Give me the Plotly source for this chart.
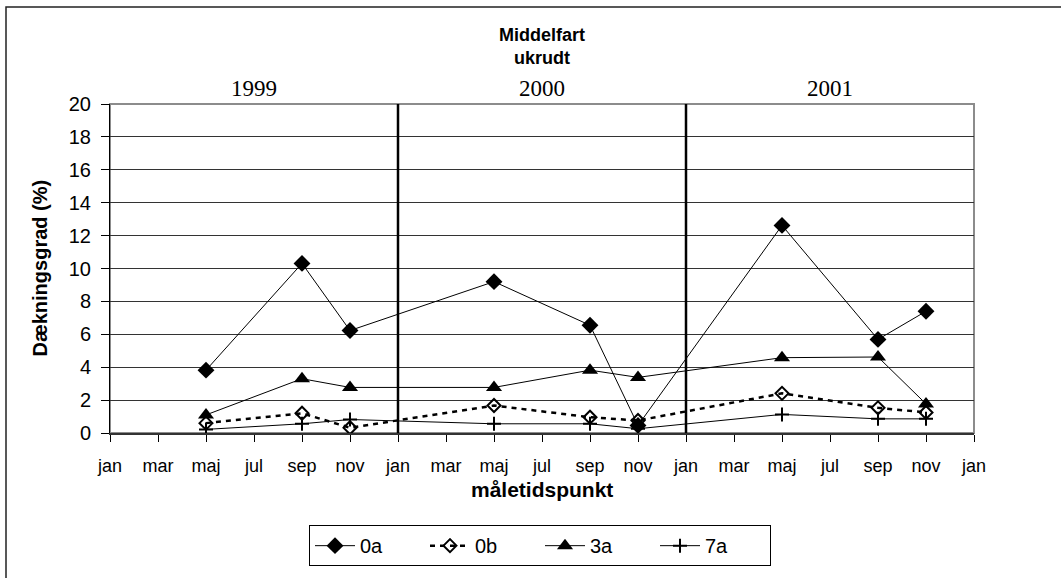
import plotly.graph_objects as go

# Month index: jan 1999 = 0, measurements in maj / sep / nov each year
months = [4, 8, 10, 16, 20, 22, 28, 32, 34]

cover_0a = [3.82, 10.31, 6.23, 9.2, 6.55, 0.46, 12.62, 5.69, 7.4]
cover_0b = [0.6, 1.2, 0.32, 1.67, 0.96, 0.76, 2.41, 1.53, 1.25]
cover_3a = [1.1, 3.3, 2.77, 2.77, 3.82, 3.38, 4.58, 4.62, 1.77]
cover_7a = [0.22, 0.56, 0.82, 0.56, 0.56, 0.26, 1.13, 0.86, 0.86]

tick_months = list(range(0, 37, 2))
tick_labels = ["jan", "mar", "maj", "jul", "sep", "nov"] * 3 + ["jan"]

year_labels = ["1999", "2000", "2001"]
year_centres = [6, 18, 30]
year_breaks = [12, 24]

fig = go.Figure()

series = [
    ("0a", cover_0a, dict(symbol="diamond", size=13, color="black"), "solid", 1),
    ("0b", cover_0b, dict(symbol="diamond-open", size=10, color="black",
                          line=dict(width=2, color="black")), "5px,5px", 2.5),
    ("3a", cover_3a, dict(symbol="triangle-up", size=14, color="black"), "solid", 1),
    ("7a", cover_7a, dict(symbol="cross-thin-open", size=10, color="black",
                          line=dict(width=2, color="black")), "solid", 1),
]
for name, vals, marker, dash, lw in series:
    fig.add_trace(go.Scatter(
        x=months, y=vals, name=name, mode="lines+markers",
        line=dict(color="black", width=lw, dash=dash),
        marker=marker,
    ))

shapes = []
# plot frame (grey top / right edges)
shapes.append(dict(type="rect", xref="paper", yref="paper", x0=0, x1=1, y0=0, y1=1,
                   line=dict(color="#8c8c8c", width=2), layer="below"))
# outer chart border
shapes.append(dict(type="rect", xref="paper", yref="paper",
                   x0=(6 - 110) / 864, x1=1.3, y0=-0.6, y1=(436 - 6) / 332,
                   line=dict(color="#222", width=1.5), layer="below"))
# year separators
for xb in year_breaks:
    shapes.append(dict(type="line", xref="x", yref="y", x0=xb, x1=xb, y0=-0.3, y1=20.36,
                       line=dict(color="black", width=2.5)))

annotations = []
for txt, xc in zip(year_labels, year_centres):
    annotations.append(dict(text=txt, x=xc, xref="x", y=1.004, yref="paper",
                            yanchor="bottom", showarrow=False,
                            font=dict(family="Liberation Serif", size=23, color="black")))
annotations.append(dict(text="<b>måletidspunkt</b>", x=0.5, xref="paper", xanchor="center",
                        y=(436 - 493) / 332, yref="paper", yanchor="middle", showarrow=False,
                        font=dict(family="Liberation Sans", size=21, color="black")))
annotations.append(dict(text="<b>Dækningsgrad (%)</b>", x=(39 - 110) / 864, xref="paper",
                        xanchor="center", y=(436 - 270) / 332, yref="paper", yanchor="middle",
                        showarrow=False, textangle=-90,
                        font=dict(family="Liberation Sans", size=20, color="black")))

fig.update_layout(
    width=1061, height=578,
    margin=dict(l=110, r=87, t=104, b=142),
    paper_bgcolor="white", plot_bgcolor="white",
    font=dict(family="Liberation Sans", color="black"),
    title=dict(text="<b>Middelfart<br>ukrudt</b>", x=542 / 1061, xanchor="center",
               y=0.929, yanchor="top",
               font=dict(family="Liberation Sans", size=18, color="black")),
    xaxis=dict(range=[0, 36], tickmode="array", tickvals=tick_months, ticktext=tick_labels,
               showgrid=False, zeroline=False, showline=True, linecolor="#333", linewidth=2,
               ticks="outside", ticklen=7, tickcolor="black", tickwidth=1,
               ticklabelstandoff=8, tickfont=dict(size=18)),
    yaxis=dict(range=[0, 20], tickmode="array", tickvals=list(range(0, 21, 2)),
               showgrid=True, gridcolor="#333", gridwidth=1, zeroline=False,
               showline=True, linecolor="black", linewidth=1,
               ticks="outside", ticklen=8, tickcolor="black", tickwidth=1,
               ticklabelstandoff=6, tickfont=dict(size=20)),
    legend=dict(orientation="h", x=(540 - 110) / 864, xanchor="center",
                y=(436 - 529) / 332, yanchor="top",
                bordercolor="black", borderwidth=1, bgcolor="white",
                font=dict(size=20), itemwidth=40, entrywidth=60, tracegroupgap=0),
    shapes=shapes, annotations=annotations,
)

fig.write_html("out.html")
